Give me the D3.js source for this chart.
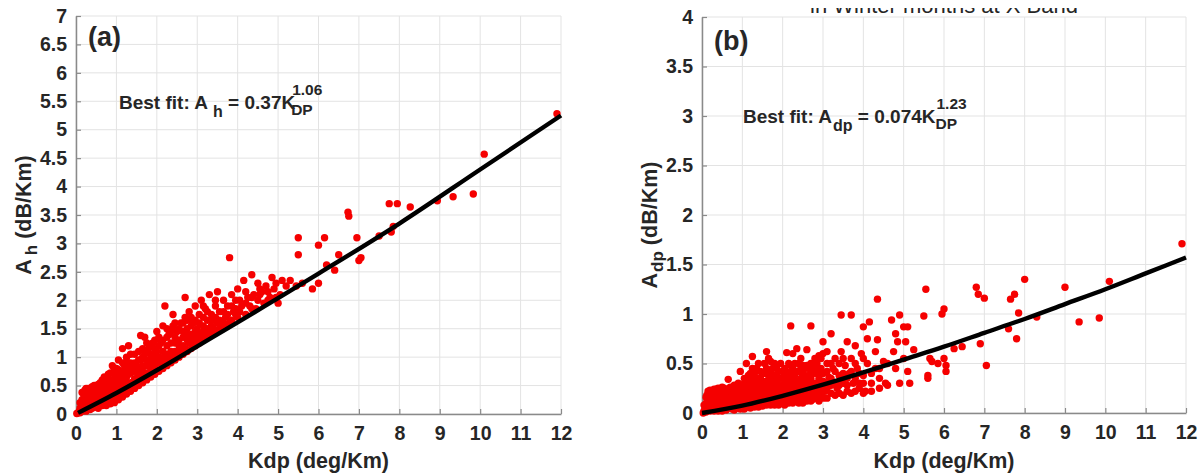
<!DOCTYPE html>
<html>
<head>
<meta charset="utf-8">
<script src="https://cdnjs.cloudflare.com/ajax/libs/d3/7.8.5/d3.min.js"></script>
<style>
  body { margin: 0; background: #fff; }
  svg text { font-family: "Liberation Sans", Arial, sans-serif; font-weight: bold; fill: #262626; }
</style>
</head>
<body>
<script>
// tick values
const kdpTicks = [0, 1, 2, 3, 4, 5, 6, 7, 8, 9, 10, 11, 12];
const ahTicks = [0, 0.5, 1, 1.5, 2, 2.5, 3, 3.5, 4, 4.5, 5, 5.5, 6, 6.5, 7];
const adpTicks = [0, 0.5, 1, 1.5, 2, 2.5, 3, 3.5, 4];

// scatter (a): [Kdp, Ah]
const pointsAh = [
  [0.02,0.01],[0.05,0.02],[0.08,0.04],[0.1,0.02],[0.1,0.06],[0.15,0.05],[0.15,0.1],[0.2,0.08],[0.2,0.15],[0.2,0.3],
  [0.22,0.42],[0.25,0.05],[0.25,0.2],[0.3,0.1],[0.3,0.25],[0.3,0.45],[0.35,0.15],[0.35,0.35],[0.4,0.1],[0.4,0.2],
  [0.4,0.3],[0.4,0.48],[0.45,0.12],[0.45,0.4],[0.5,0.15],[0.5,0.25],[0.5,0.35],[0.5,0.5],[0.55,0.2],[0.55,0.45],
  [0.6,0.17],[0.6,0.3],[0.6,0.55],[0.65,0.25],[0.65,0.4],[0.7,0.2],[0.7,0.35],[0.7,0.5],[0.7,0.65],[0.75,0.3],
  [0.75,0.45],[0.8,0.22],[0.8,0.38],[0.8,0.55],[0.8,0.7],[0.85,0.3],[0.85,0.5],[0.9,0.25],[0.9,0.42],[0.9,0.6],
  [0.9,0.85],[0.95,0.35],[0.95,0.7],[1.0,0.28],[1.0,0.45],[1.0,0.6],[1.0,0.8],[1.05,0.38],[1.05,0.95],[1.1,0.32],
  [1.1,0.52],[1.1,0.7],[1.15,1.15],[1.15,0.45],[1.2,0.38],[1.2,0.6],[1.2,0.85],[1.25,0.5],[1.25,1.0],[1.3,0.42],
  [1.3,0.7],[1.3,1.2],[1.35,0.55],[1.35,0.9],[1.4,0.48],[1.4,0.75],[1.45,0.62],[1.45,1.05],[1.5,0.52],[1.5,0.85],
  [1.55,0.68],[1.55,1.1],[1.6,0.58],[1.6,0.95],[1.6,1.38],[1.65,0.75],[1.7,0.62],[1.7,1.05],[1.7,1.35],[1.75,0.85],
  [1.8,0.68],[1.8,1.15],[1.85,0.95],[1.9,0.72],[1.9,1.25],[1.95,1.0],[2.0,0.78],[2.0,1.1],[2.0,1.45],[2.05,0.9],
  [2.1,1.25],[2.15,0.85],[2.15,1.55],[2.2,1.0],[2.2,1.9],[2.25,1.2],[2.3,0.92],[2.3,1.4],[2.35,1.1],[2.4,1.0],
  [2.4,1.55],[2.4,1.75],[2.45,1.25],[2.5,1.05],[2.5,1.45],[2.55,1.2],[2.6,1.1],[2.6,1.6],[2.65,1.35],[2.7,1.15],
  [2.7,1.7],[2.7,2.05],[2.75,1.5],[2.8,1.25],[2.8,1.8],[2.85,1.4],[2.9,1.2],[2.9,1.6],[2.95,1.9],[3.0,1.3],
  [3.0,1.5],[3.05,1.75],[3.1,1.35],[3.1,2.0],[3.15,1.55],[3.2,1.4],[3.2,1.85],[3.25,1.65],[3.3,1.45],[3.3,2.1],
  [3.35,1.75],[3.4,1.5],[3.45,1.9],[3.5,1.6],[3.5,2.15],[3.55,1.8],[3.6,1.55],[3.65,2.0],[3.7,1.7],[3.75,1.9],
  [3.8,1.6],[3.8,2.75],[3.85,2.1],[3.9,1.8],[3.95,2.0],[4.0,1.7],[4.0,2.2],[4.1,1.9],[4.15,2.35],[4.2,1.75],
  [4.25,2.05],[4.3,1.9],[4.35,2.45],[4.4,2.1],[4.45,1.85],[4.5,2.0],[4.5,2.3],[4.6,2.15],[4.65,1.95],[4.7,2.25],
  [4.8,2.05],[4.85,2.4],[4.9,2.2],[5.0,1.95],[5.05,2.1],[5.1,2.35],[5.2,2.25],[5.3,2.35],[5.45,2.25],[5.5,2.8],
  [5.5,3.1],[5.6,2.3],[5.85,2.2],[6.0,2.3],[6.0,2.97],[6.15,3.1],[6.2,2.62],[6.4,2.53],[6.5,2.8],[6.73,3.55],
  [6.75,3.48],[6.95,3.1],[7.0,2.7],[7.05,2.75],[7.5,3.13],[7.75,3.7],[7.8,3.2],[7.85,3.3],[7.95,3.7],[8.27,3.64],
  [8.94,3.75],[9.33,3.82],[9.83,3.87],[10.1,4.57],[11.9,5.28],
  [0.1,0.1],[0.1,0.2],[0.15,0.25],[0.15,0.38],[0.25,0.12],[0.25,0.35],[0.25,0.45],[0.3,0.18],[0.3,0.38],[0.35,0.08],
  [0.35,0.25],[0.35,0.45],[0.45,0.2],[0.45,0.3],[0.45,0.5],[0.55,0.1],[0.55,0.3],[0.55,0.38],[0.55,0.52],[0.6,0.42],
  [0.65,0.15],[0.65,0.5],[0.65,0.6],[0.75,0.15],[0.75,0.22],[0.75,0.38],[0.75,0.55],[0.75,0.62],[0.85,0.18],[0.85,0.4],
  [0.85,0.6],[0.85,0.72],[0.95,0.2],[0.95,0.28],[0.95,0.45],[0.95,0.55],[0.95,0.8],[1.05,0.25],[1.05,0.5],[1.05,0.65],
  [1.05,0.78],[1.15,0.3],[1.15,0.58],[1.15,0.75],[1.15,0.9],[1.25,0.35],[1.25,0.42],[1.25,0.65],[1.25,0.8],[1.25,0.92],
  [1.35,0.4],[1.35,0.48],[1.35,0.72],[1.35,0.82],[1.35,1.05],[1.45,0.45],[1.45,0.55],[1.45,0.75],[1.45,0.9],[1.55,0.5],
  [1.55,0.6],[1.55,0.8],[1.55,0.95],[1.65,0.55],[1.65,0.65],[1.65,0.85],[1.65,1.0],[1.65,1.15],[1.75,0.6],[1.75,0.72],
  [1.75,0.95],[1.75,1.1],[1.75,1.25],[1.85,0.65],[1.85,0.78],[1.85,0.88],[1.85,1.05],[1.85,1.2],[1.95,0.7],[1.95,0.85],
  [1.95,0.95],[1.95,1.15],[1.95,1.3],[2.05,0.75],[2.05,1.0],[2.05,1.2],[2.05,1.35],[2.15,0.8],[2.15,0.95],[2.15,1.1],
  [2.15,1.3],[2.25,0.85],[2.25,1.05],[2.25,1.35],[2.25,1.5],[2.35,0.9],[2.35,0.98],[2.35,1.25],[2.35,1.45],[2.45,0.95],
  [2.45,1.1],[2.45,1.35],[2.45,1.6],[2.55,1.0],[2.55,1.1],[2.55,1.3],[2.55,1.5],[2.65,1.05],[2.65,1.2],[2.65,1.45],
  [2.65,1.6],[2.75,1.1],[2.75,1.3],[2.75,1.4],[2.75,1.65],[2.85,1.15],[2.85,1.3],[2.85,1.55],[2.85,1.7],[2.95,1.2],
  [2.95,1.35],[2.95,1.45],[2.95,1.65],[3.05,1.25],[3.05,1.4],[3.05,1.6],[3.15,1.3],[3.15,1.45],[3.15,1.7],[3.15,1.9],
  [3.25,1.35],[3.25,1.5],[3.25,1.8],[3.35,1.4],[3.35,1.55],[3.35,1.65],[3.45,1.45],[3.45,1.7],[3.45,2.0],[3.55,1.5],
  [3.55,1.65],[3.65,1.6],[3.65,1.8],[3.75,1.55],[3.75,1.75],[3.85,1.65],[3.85,1.9],[3.95,1.75],[3.95,1.85],[4.05,1.8],
  [4.05,2.0],[4.2,1.95],[4.2,2.15],[4.35,1.85],[4.35,2.05],[4.55,2.1],[4.55,2.2],[4.75,2.15],[4.75,2.0],[4.95,2.05],
  [4.95,2.3]
];

// scatter (b): [Kdp, Adp]
const pointsAdp = [
  [0.03,0.0],[0.05,0.02],[0.08,0.05],[0.1,0.01],[0.1,0.1],[0.12,0.18],[0.15,0.04],[0.15,0.22],[0.2,0.02],[0.2,0.08],
  [0.2,0.14],[0.2,0.23],[0.25,0.05],[0.25,0.18],[0.3,0.02],[0.3,0.1],[0.3,0.24],[0.35,0.06],[0.35,0.15],[0.4,0.02],
  [0.4,0.1],[0.4,0.2],[0.4,0.25],[0.45,0.05],[0.45,0.15],[0.5,0.02],[0.5,0.1],[0.5,0.2],[0.5,0.26],[0.55,0.06],
  [0.55,0.15],[0.6,0.03],[0.6,0.1],[0.6,0.22],[0.65,0.34],[0.65,0.18],[0.7,0.05],[0.7,0.12],[0.7,0.26],[0.75,0.08],
  [0.75,0.2],[0.8,0.03],[0.8,0.15],[0.8,0.28],[0.85,0.1],[0.85,0.22],[0.9,0.05],[0.9,0.18],[0.9,0.3],[0.95,0.12],
  [0.95,0.42],[1.0,0.06],[1.0,0.2],[1.0,0.27],[1.05,0.14],[1.05,0.35],[1.1,0.08],[1.1,0.22],[1.1,0.5],[1.15,0.3],
  [1.15,0.16],[1.2,0.1],[1.2,0.25],[1.2,0.4],[1.25,0.57],[1.25,0.18],[1.3,0.12],[1.3,0.3],[1.35,0.22],[1.35,0.45],
  [1.4,0.1],[1.4,0.35],[1.45,0.18],[1.45,0.28],[1.5,0.12],[1.5,0.4],[1.55,0.22],[1.55,0.5],[1.6,0.15],[1.6,0.32],
  [1.6,0.62],[1.65,0.25],[1.7,0.12],[1.7,0.4],[1.7,0.52],[1.75,0.2],[1.8,0.3],[1.8,0.15],[1.85,0.45],[1.9,0.22],
  [1.9,0.35],[1.95,0.14],[2.0,0.28],[2.0,0.42],[2.05,0.2],[2.1,0.61],[2.1,0.35],[2.15,0.15],[2.2,0.25],[2.2,0.88],
  [2.2,0.48],[2.25,0.38],[2.3,0.2],[2.3,0.3],[2.35,0.65],[2.4,0.42],[2.4,0.24],[2.45,0.55],[2.5,0.18],[2.5,0.32],
  [2.55,0.45],[2.6,0.26],[2.6,0.64],[2.65,0.38],[2.7,0.22],[2.7,0.88],[2.75,0.5],[2.8,0.3],[2.85,0.4],[2.9,0.25],
  [2.9,0.58],[2.95,0.45],[3.0,0.32],[3.0,0.72],[3.05,0.22],[3.1,0.5],[3.1,0.62],[3.15,0.36],[3.2,0.8],[3.2,0.28],
  [3.25,0.45],[3.3,0.55],[3.35,0.25],[3.4,0.38],[3.45,0.99],[3.45,0.62],[3.5,0.3],[3.55,0.48],[3.6,0.72],[3.6,0.22],
  [3.65,0.4],[3.7,0.99],[3.7,0.55],[3.75,0.3],[3.8,0.68],[3.85,0.45],[3.9,0.25],[3.95,0.6],[4.0,0.38],[4.0,0.87],
  [4.05,0.22],[4.1,0.75],[4.1,0.5],[4.15,0.92],[4.2,0.3],[4.3,0.45],[4.3,0.62],[4.35,0.74],[4.35,1.15],[4.4,0.25],
  [4.5,0.52],[4.55,0.3],[4.7,0.94],[4.75,0.62],[4.8,0.8],[4.8,0.45],[4.85,0.72],[4.9,0.99],[4.9,0.3],[5.0,0.55],
  [5.0,0.87],[5.05,0.72],[5.1,0.42],[5.1,0.87],[5.15,0.3],[5.25,0.64],[5.5,0.98],[5.55,1.25],[5.6,0.38],[5.6,0.35],
  [5.65,0.55],[5.7,0.52],[5.85,0.5],[5.95,1.0],[6.0,0.55],[6.0,1.05],[6.05,0.42],[6.05,0.48],[6.25,0.65],[6.45,0.67],
  [6.8,1.27],[6.85,1.2],[6.9,0.7],[7.0,1.16],[7.05,0.48],[7.6,0.85],[7.65,1.15],[7.75,1.2],[7.8,0.75],[7.85,1.01],
  [8.0,1.35],[8.3,0.97],[9.0,1.27],[9.35,0.92],[9.85,0.96],[10.1,1.33],[11.9,1.71],
  [0.05,0.08],[0.1,0.16],[0.15,0.12],[0.2,0.18],[0.25,0.1],[0.25,0.22],[0.3,0.06],[0.3,0.15],[0.3,0.19],[0.35,0.1],
  [0.35,0.2],[0.35,0.24],[0.45,0.1],[0.45,0.2],[0.45,0.24],[0.55,0.1],[0.55,0.2],[0.55,0.25],[0.6,0.06],[0.6,0.15],
  [0.65,0.08],[0.65,0.12],[0.65,0.24],[0.75,0.04],[0.75,0.14],[0.75,0.25],[0.85,0.05],[0.85,0.16],[0.85,0.26],[0.95,0.04],
  [0.95,0.08],[0.95,0.18],[0.95,0.24],[1.0,0.1],[1.0,0.15],[1.05,0.04],[1.05,0.24],[1.05,0.3],[1.1,0.12],[1.1,0.18],
  [1.1,0.28],[1.15,0.06],[1.15,0.22],[1.15,0.38],[1.2,0.05],[1.2,0.15],[1.2,0.32],[1.25,0.08],[1.25,0.25],[1.25,0.35],
  [1.25,0.45],[1.3,0.06],[1.3,0.2],[1.3,0.4],[1.35,0.1],[1.35,0.15],[1.35,0.3],[1.4,0.06],[1.4,0.2],[1.4,0.25],
  [1.4,0.5],[1.45,0.1],[1.45,0.35],[1.45,0.42],[1.5,0.07],[1.5,0.18],[1.5,0.25],[1.5,0.32],[1.55,0.1],[1.55,0.15],
  [1.55,0.3],[1.55,0.4],[1.6,0.08],[1.6,0.2],[1.6,0.25],[1.6,0.45],[1.65,0.12],[1.65,0.18],[1.65,0.32],[1.65,0.38],
  [1.65,0.55],[1.7,0.08],[1.7,0.22],[1.7,0.3],[1.75,0.1],[1.75,0.15],[1.75,0.28],[1.75,0.35],[1.75,0.45],[1.8,0.08],
  [1.8,0.2],[1.8,0.38],[1.8,0.5],[1.85,0.1],[1.85,0.15],[1.85,0.25],[1.85,0.32],[1.9,0.08],[1.9,0.28],[1.9,0.42],
  [1.95,0.1],[1.95,0.2],[1.95,0.35],[1.95,0.5],[2.0,0.12],[2.0,0.18],[2.0,0.22],[2.0,0.35],[2.05,0.08],[2.05,0.3],
  [2.05,0.45],[2.1,0.12],[2.1,0.18],[2.1,0.25],[2.1,0.4],[2.15,0.1],[2.15,0.22],[2.15,0.3],[2.15,0.5],[2.2,0.15],
  [2.2,0.2],[2.2,0.35],[2.2,0.42],[2.25,0.1],[2.25,0.28],[2.25,0.45],[2.25,0.6],[2.3,0.12],[2.3,0.25],[2.3,0.38],
  [2.3,0.5],[2.35,0.15],[2.35,0.2],[2.35,0.32],[2.35,0.42],[2.4,0.1],[2.4,0.18],[2.4,0.3],[2.4,0.5],[2.45,0.14],
  [2.45,0.25],[2.45,0.35],[2.45,0.45],[2.5,0.1],[2.5,0.22],[2.5,0.4],[2.5,0.48],[2.55,0.15],[2.55,0.2],[2.55,0.3],
  [2.55,0.38],[2.6,0.12],[2.6,0.18],[2.6,0.35],[2.6,0.48],[2.65,0.15],[2.65,0.22],[2.65,0.3],[2.65,0.45],[2.7,0.12],
  [2.7,0.28],[2.7,0.35],[2.7,0.5],[2.75,0.14],[2.75,0.2],[2.75,0.4],[2.8,0.18],[2.8,0.24],[2.8,0.45],[2.8,0.55],
  [2.85,0.15],[2.85,0.3],[2.85,0.5],[2.9,0.12],[2.9,0.2],[2.9,0.35],[2.95,0.18],[2.95,0.28],[2.95,0.55],[3.0,0.15],
  [3.0,0.22],[3.0,0.4],[3.0,0.6],[3.1,0.15],[3.1,0.25],[3.1,0.3],[3.1,0.42],[3.2,0.2],[3.2,0.35],[3.2,0.5],
  [3.3,0.18],[3.3,0.3],[3.3,0.42],[3.4,0.2],[3.4,0.28],[3.4,0.5],[3.5,0.18],[3.5,0.4],[3.5,0.55],[3.6,0.28],
  [3.6,0.35],[3.7,0.2],[3.7,0.42],[3.8,0.22],[3.8,0.35],[3.8,0.5],[3.9,0.3],[3.9,0.4],[4.0,0.2],[4.0,0.3],
  [4.0,0.55],[4.2,0.22],[4.2,0.4],[4.4,0.35],[4.4,0.45],[4.6,0.28],[4.6,0.5]
];

// best-fit curves
const fitAh = [[0.05,0.02],[1,0.37],[2,0.77],[3,1.19],[4,1.61],[5,2.04],[6,2.47],[8,3.35],[10,4.3],[12,5.25]];
const fitAdp = [[0,0],[1,0.074],[2,0.174],[3,0.286],[4,0.41],[5,0.54],[6,0.67],[7,0.81],[8,0.95],[9,1.1],[10,1.25],[11,1.41],[12,1.57]];

const svg = d3.select("body").append("svg")
    .attr("width", 1201)
    .attr("height", 475);

svg.append("rect").attr("width", 1201).attr("height", 475).attr("fill", "#fff");

function drawPanel(opt) {
  const x = d3.scaleLinear().domain([0, 12]).range([opt.left, opt.right]);
  const y = d3.scaleLinear().domain([0, opt.ymax]).range([opt.bottom, opt.top]);
  const g = svg.append("g");

  // grid
  g.selectAll(".gx").data(kdpTicks).enter().append("line")
    .attr("x1", d => x(d)).attr("x2", d => x(d))
    .attr("y1", opt.top).attr("y2", opt.bottom)
    .attr("stroke", "#e3e3e3").attr("stroke-width", 1);
  g.selectAll(".gy").data(opt.yticks).enter().append("line")
    .attr("x1", opt.left).attr("x2", opt.right)
    .attr("y1", d => y(d)).attr("y2", d => y(d))
    .attr("stroke", "#e3e3e3").attr("stroke-width", 1);

  // axes with inward ticks
  const xAxis = d3.axisBottom(x).tickValues(kdpTicks).tickSizeInner(-5).tickSizeOuter(0).tickPadding(12);
  const yAxis = d3.axisLeft(y).tickValues(opt.yticks).tickSizeInner(-5).tickSizeOuter(0).tickPadding(9)
      .tickFormat(d3.format("~g"));
  const gx = g.append("g").attr("transform", "translate(0," + opt.bottom + ")").call(xAxis);
  const gy = g.append("g").attr("transform", "translate(" + opt.left + ",0)").call(yAxis);
  [gx, gy].forEach(a => {
    a.select(".domain").attr("stroke", "#8a8a8a").attr("stroke-width", 1.5);
    a.selectAll(".tick line").attr("stroke", "#8a8a8a").attr("stroke-width", 1.2);
    a.selectAll("text").attr("font-size", 19.5).attr("font-family", null).attr("fill", "#262626");
  });

  // points
  g.selectAll("circle").data(opt.points).enter().append("circle")
    .attr("cx", d => x(d[0])).attr("cy", d => y(d[1]))
    .attr("r", 3.7).attr("fill", "#f50000");

  // fit line
  g.append("path").datum(opt.fit)
    .attr("d", d3.line().x(d => x(d[0])).y(d => y(d[1])).curve(d3.curveMonotoneX))
    .attr("fill", "none").attr("stroke", "#000").attr("stroke-width", 4.4);

  // panel letter
  g.append("text").attr("x", opt.left + 12).attr("y", opt.top + opt.letterDy)
    .attr("font-size", 27).text(opt.letter);

  // x label
  g.append("text").attr("x", (opt.left + opt.right) / 2).attr("y", 468)
    .attr("text-anchor", "middle").attr("font-size", 21.5).text("Kdp (deg/Km)");

  // y label
  const yl = g.append("text")
    .attr("transform", "translate(" + opt.ylabelX + "," + ((opt.top + opt.bottom) / 2 + opt.ylabelDy) + ") rotate(-90)")
    .attr("text-anchor", "middle").attr("font-size", 21.5);
  yl.append("tspan").text("A");
  yl.append("tspan").attr("dx", opt.subGap).attr("dy", 6).attr("font-size", 17).text(opt.ysub);
  yl.append("tspan").attr("dy", -6).text(" (dB/Km)");

  return {x, y, g};
}

const pa = drawPanel({
  left: 76, right: 561, top: 16, bottom: 414, ymax: 7, yticks: ahTicks,
  points: pointsAh, fit: fitAh, letter: "(a)", letterDy: 30, ylabelX: 31, ylabelDy: 0, ysub: "h", subGap: 4
});

const pb = drawPanel({
  left: 702, right: 1186, top: 17, bottom: 413, ymax: 4, yticks: adpTicks,
  points: pointsAdp, fit: fitAdp, letter: "(b)", letterDy: 33, ylabelX: 657, ylabelDy: 10, ysub: "dp", subGap: 1
});

// best-fit annotations
function fitText(x0, y0, lhsSub, lhsGap, coef, exp) {
  const t = svg.append("text").attr("x", x0).attr("y", y0).attr("font-size", 19);
  t.append("tspan").text("Best fit: A");
  t.append("tspan").attr("dx", lhsGap).attr("dy", 8).attr("font-size", 16).text(lhsSub);
  t.append("tspan").attr("dy", -8).text(" = " + coef + "K");
  const endX = t.node().getComputedTextLength() + x0;
  svg.append("text").attr("x", endX + 2).attr("y", y0 - 14).attr("font-size", 15.5).text(exp);
  svg.append("text").attr("x", endX + 1).attr("y", y0 + 6).attr("font-size", 15.5).text("DP");
}
fitText(119, 109, "h", 5, "0.37", "1.06");
fitText(743, 123, "dp", 1, "0.074", "1.23");

// bottom strip of a cut-off title over panel (b)
svg.append("clipPath").attr("id", "titleclip")
  .append("rect").attr("x", 0).attr("y", 8).attr("width", 1201).attr("height", 6);
svg.append("text").attr("clip-path", "url(#titleclip)")
  .attr("x", 944).attr("y", 12.5).attr("text-anchor", "middle")
  .attr("font-size", 22).style("font-weight", "normal")
  .text("in Winter months at X Band");
</script>
</body>
</html>
